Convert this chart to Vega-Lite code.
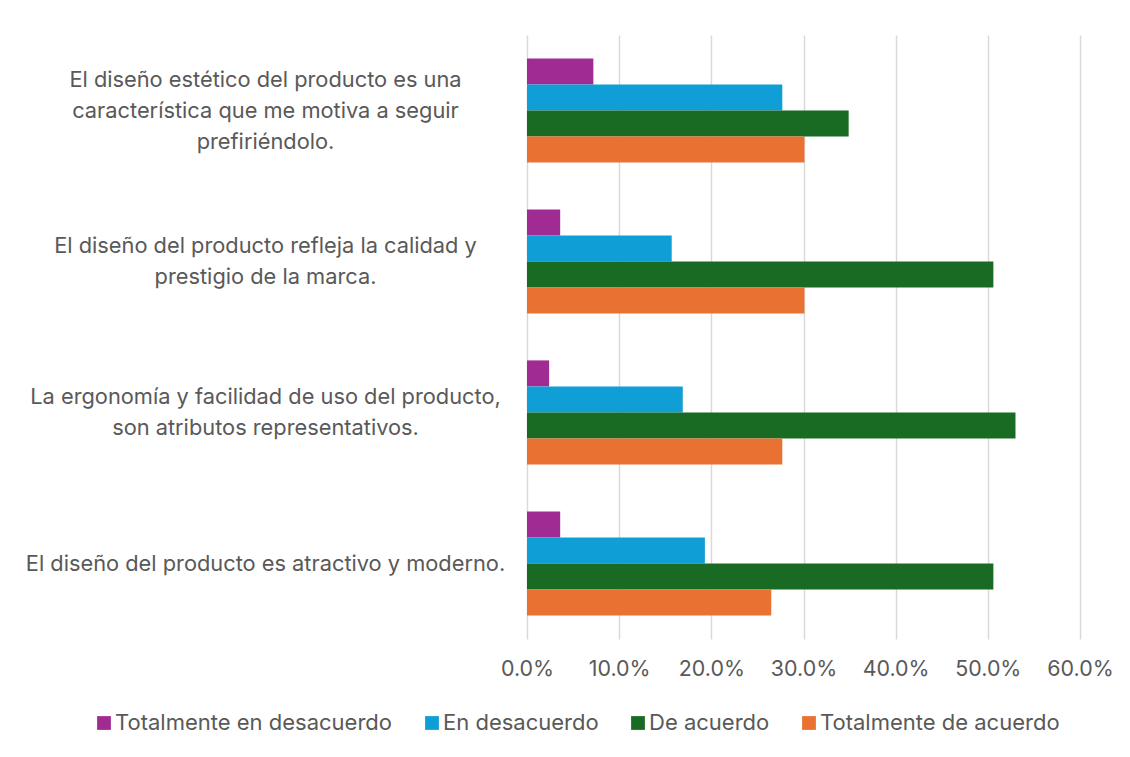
{
  "$schema": "https://vega.github.io/schema/vega-lite/v6.json",
  "width": 553,
  "height": 604,
  "autosize": {"type": "none"},
  "padding": {"left": 527, "top": 35, "right": 50, "bottom": 118},
  "background": "#ffffff",
  "data": {
    "values": [
      {"item": "El diseño estético del producto es una|característica que me motiva a seguir|prefiriéndolo.", "respuesta": "Totalmente en desacuerdo", "pct": 0.072},
      {"item": "El diseño estético del producto es una|característica que me motiva a seguir|prefiriéndolo.", "respuesta": "En desacuerdo", "pct": 0.277},
      {"item": "El diseño estético del producto es una|característica que me motiva a seguir|prefiriéndolo.", "respuesta": "De acuerdo", "pct": 0.349},
      {"item": "El diseño estético del producto es una|característica que me motiva a seguir|prefiriéndolo.", "respuesta": "Totalmente de acuerdo", "pct": 0.301},
      {"item": "El diseño del producto refleja la calidad y|prestigio de la marca.", "respuesta": "Totalmente en desacuerdo", "pct": 0.036},
      {"item": "El diseño del producto refleja la calidad y|prestigio de la marca.", "respuesta": "En desacuerdo", "pct": 0.157},
      {"item": "El diseño del producto refleja la calidad y|prestigio de la marca.", "respuesta": "De acuerdo", "pct": 0.506},
      {"item": "El diseño del producto refleja la calidad y|prestigio de la marca.", "respuesta": "Totalmente de acuerdo", "pct": 0.301},
      {"item": "La ergonomía y facilidad de uso del producto,|son atributos representativos.", "respuesta": "Totalmente en desacuerdo", "pct": 0.024},
      {"item": "La ergonomía y facilidad de uso del producto,|son atributos representativos.", "respuesta": "En desacuerdo", "pct": 0.169},
      {"item": "La ergonomía y facilidad de uso del producto,|son atributos representativos.", "respuesta": "De acuerdo", "pct": 0.530},
      {"item": "La ergonomía y facilidad de uso del producto,|son atributos representativos.", "respuesta": "Totalmente de acuerdo", "pct": 0.277},
      {"item": "El diseño del producto es atractivo y moderno.", "respuesta": "Totalmente en desacuerdo", "pct": 0.036},
      {"item": "El diseño del producto es atractivo y moderno.", "respuesta": "En desacuerdo", "pct": 0.193},
      {"item": "El diseño del producto es atractivo y moderno.", "respuesta": "De acuerdo", "pct": 0.506},
      {"item": "El diseño del producto es atractivo y moderno.", "respuesta": "Totalmente de acuerdo", "pct": 0.265}
    ]
  },
  "mark": {"type": "bar"},
  "encoding": {
    "y": {
      "field": "item",
      "type": "nominal",
      "sort": null,
      "scale": {"paddingInner": 0.31, "paddingOuter": 0.155},
      "axis": {
        "title": null,
        "domain": false,
        "ticks": false,
        "labelExpr": "split(datum.label, '|')",
        "labelAlign": "center",
        "labelPadding": 262,
        "labelLineHeight": 31,
        "labelOffset": {"condition": [
          {"test": "length(split(datum.value, '|')) == 3", "value": -31},
          {"test": "length(split(datum.value, '|')) == 2", "value": -15.5}
        ], "value": 0},
        "labelLimit": 600,
        "labelFont": "Inter",
        "labelFontSize": 21.8,
        "labelColor": "#595959"
      }
    },
    "yOffset": {
      "field": "respuesta",
      "type": "nominal",
      "sort": ["Totalmente en desacuerdo", "En desacuerdo", "De acuerdo", "Totalmente de acuerdo"],
      "scale": {"paddingInner": 0, "paddingOuter": 0}
    },
    "x": {
      "field": "pct",
      "type": "quantitative",
      "scale": {"domain": [0, 0.6], "nice": false},
      "axis": {
        "title": null,
        "format": ".1%",
        "values": [0, 0.1, 0.2, 0.3, 0.4, 0.5, 0.6],
        "domain": false,
        "ticks": false,
        "grid": true,
        "gridColor": "#d9d9d9",
        "gridWidth": 1.5,
        "labelPadding": 19,
        "labelFont": "Inter",
        "labelFontSize": 21.4,
        "labelColor": "#595959",
        "labelFlush": false
      }
    },
    "color": {
      "field": "respuesta",
      "type": "nominal",
      "sort": ["Totalmente en desacuerdo", "En desacuerdo", "De acuerdo", "Totalmente de acuerdo"],
      "scale": {
        "domain": ["Totalmente en desacuerdo", "En desacuerdo", "De acuerdo", "Totalmente de acuerdo"],
        "range": ["#A02B93", "#0F9ED5", "#196B24", "#E97132"]
      },
      "legend": {
        "title": null,
        "orient": "none",
        "direction": "horizontal",
        "legendX": -434,
        "legendY": 677,
        "symbolType": "square",
        "symbolSize": 190,
        "symbolStrokeWidth": 0,
        "symbolOpacity": 1,
        "labelOffset": 0,
        "columnPadding": 28,
        "labelFont": "Inter",
        "labelFontSize": 22,
        "labelColor": "#595959",
        "labelLimit": 400
      }
    }
  },
  "config": {
    "view": {"stroke": null},
    "bar": {"opacity": 1}
  }
}
